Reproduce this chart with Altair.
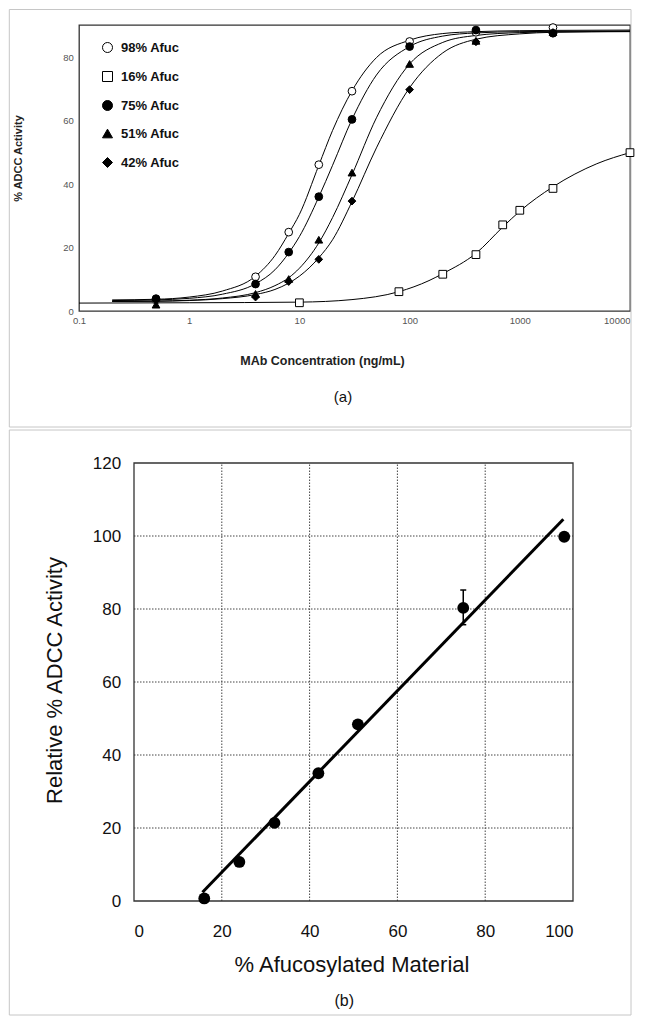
import altair as alt
import pandas as pd

FONT = "Liberation Sans"

# ---------------- Panel (a): dose-response ----------------
series_names = ["98% Afuc", "16% Afuc", "75% Afuc", "51% Afuc", "42% Afuc"]
series_shapes = ["circle", "square", "circle", "triangle-up", "diamond"]
series_fills = ["white", "white", "black", "black", "black"]
series_strokes = ["black", "black", "black", "black", "black"]

conc = [0.5, 4, 8, 15, 30, 100, 400, 2000]
afuc98 = [3.5, 10.8, 24.9, 46.2, 69.4, 85.1, 88.0, 89.5]
afuc75 = [3.9, 8.5, 18.6, 36.1, 60.5, 83.5, 88.7, 87.7]
afuc51 = [2.0, 5.4, 10.1, 22.5, 43.7, 78.0, 85.3, 88.1]
afuc42 = [3.5, 4.4, 9.3, 16.3, 34.7, 69.9, 85.0, 87.7]
conc16 = [10, 80, 200, 400, 700, 1000, 2000, 10000]
afuc16 = [2.6, 6.1, 11.6, 17.8, 27.2, 31.8, 38.7, 50.0]

# fitted curves
curve_conc = [0.2, 0.5, 1, 2, 4, 6, 8, 10, 15, 20, 30, 50, 100, 200, 400, 1000, 2000, 10000]
fit98 = [3.5, 3.7, 4.4, 6.3, 11.0, 17.5, 24.5, 30.5, 46.0, 57.0, 69.5, 80.0, 85.5, 87.6, 88.2, 88.5, 88.6, 88.7]
fit75 = [3.3, 3.5, 4.0, 5.3, 8.6, 13.0, 18.3, 23.5, 36.0, 46.0, 60.5, 74.5, 83.5, 86.8, 87.8, 88.2, 88.3, 88.4]
fit51 = [3.0, 3.1, 3.4, 4.1, 5.8, 8.0, 10.5, 13.5, 21.5, 29.5, 43.0, 61.0, 78.0, 84.8, 87.0, 87.9, 88.1, 88.2]
fit42 = [3.0, 3.1, 3.3, 3.9, 5.2, 6.8, 8.8, 11.0, 16.8, 22.5, 34.5, 51.5, 70.5, 81.5, 85.8, 87.5, 88.0, 88.3]
curve_conc16 = [0.1, 1, 10, 30, 80, 150, 200, 400, 700, 1000, 2000, 5000, 10000]
fit16 = [2.5, 2.6, 2.8, 3.6, 6.1, 9.6, 11.8, 18.2, 26.5, 31.5, 39.2, 46.5, 50.0]

x_ticks_a = [0.1, 1, 10, 100, 1000, 10000]
y_ticks_a = [0, 20, 40, 60, 80]

# ---------------- Panel (b): correlation ----------------
pct_afuc = [16, 24, 32, 42, 51, 75, 98]
rel_adcc = [0.7, 10.7, 21.4, 35.0, 48.4, 80.3, 99.8]
err_x = [75]
err_lo = [75.7]
err_hi = [85.2]
fit_x = [15.6, 97.8]
fit_y = [2.4, 104.6]
x_ticks_b = [0, 20, 40, 60, 80, 100]
y_ticks_b = [0, 20, 40, 60, 80, 100, 120]

# ---------------- tables ----------------
pts_rows = []
for name, xs_, ys_ in [("98% Afuc", conc, afuc98), ("16% Afuc", conc16, afuc16),
                       ("75% Afuc", conc, afuc75), ("51% Afuc", conc, afuc51),
                       ("42% Afuc", conc, afuc42)]:
    for a, b in zip(xs_, ys_):
        pts_rows.append({"conc": a, "act": b, "series": name})
pts_df = pd.DataFrame(pts_rows)

cur_rows = []
for name, xs_, ys_ in [("98% Afuc", curve_conc, fit98), ("16% Afuc", curve_conc16, fit16),
                       ("75% Afuc", curve_conc, fit75), ("51% Afuc", curve_conc, fit51),
                       ("42% Afuc", curve_conc, fit42)]:
    for a, b in zip(xs_, ys_):
        cur_rows.append({"conc": a, "act": b, "series": name})
cur_df = pd.DataFrame(cur_rows)

one = pd.DataFrame({"k": [0]})

# both panels share the same left plot origin (page x ~78)
W_A, H_A = 551, 286
W_B, H_B = 494, 438
B_LEFT = 55  # panel (b) data area starts 55px right of the shared origin
BOX_L, BOX_R = -69.7, 552.0

xs_a = alt.Scale(type="log", domain=[0.1, 10000], nice=False)
ys_a = alt.Scale(domain=[0, 90.3], nice=False)

x_axis_a = alt.Axis(values=x_ticks_a, format="~g", ticks=False, domain=False, grid=False,
                    labelFont=FONT, labelFontSize=9.5, labelColor="#555", labelPadding=4,
                    labelAlign=alt.ExprRef(expr="datum.value >= 10000 ? 'right' : 'center'"),
                    title="MAb Concentration (ng/mL)", titleFont=FONT, titleFontSize=12.5,
                    titleFontWeight="bold", titleColor="#222", titleX=243, titleY=49,
                    titleBaseline="middle", titleAlign="center")
y_axis_a = alt.Axis(values=y_ticks_a, ticks=False, domain=False, grid=False,
                    labelFont=FONT, labelFontSize=9.5, labelColor="#555", labelPadding=5.7,
                    title="% ADCC Activity", titleFont=FONT, titleFontSize=11,
                    titleFontWeight="bold", titleColor="#222", titleX=-61, titleY=133,
                    titleAngle=270, titleBaseline="middle", titleAlign="center")

curves = alt.Chart(cur_df).mark_line(color="black", strokeWidth=1, interpolate="monotone").encode(
    x=alt.X("conc:Q", scale=xs_a, axis=x_axis_a),
    y=alt.Y("act:Q", scale=ys_a, axis=y_axis_a),
    detail="series:N",
)

leg = alt.Legend(orient="none", legendX=22, legendY=16, padding=0, title=None,
                 labelFont=FONT, labelFontSize=13, labelFontWeight="bold", labelColor="#111",
                 symbolSize=100, symbolStrokeWidth=1,
                 rowPadding=14, labelOffset=7)

points = alt.Chart(pts_df).mark_point(opacity=1, strokeWidth=1, size=60).encode(
    x=alt.X("conc:Q", scale=xs_a),
    y=alt.Y("act:Q", scale=ys_a),
    shape=alt.Shape("series:N", scale=alt.Scale(domain=series_names, range=series_shapes), legend=leg),
    fill=alt.Fill("series:N", scale=alt.Scale(domain=series_names, range=series_fills), legend=leg),
    stroke=alt.Stroke("series:N", scale=alt.Scale(domain=series_names, range=series_strokes), legend=leg),
)

border_a = alt.Chart(one).mark_rect(fillOpacity=0, stroke="#c6c6c6", strokeWidth=1).encode(
    x=alt.value(BOX_L), x2=alt.value(BOX_R), y=alt.value(-15.5), y2=alt.value(402)
)
cap_a = alt.Chart(one).mark_text(text="(a)", font=FONT, fontSize=15, color="#111",
                                 baseline="middle", align="center").encode(
    x=alt.value(264), y=alt.value(372)
)

panel_a = alt.layer(border_a, curves, points, cap_a).properties(
    width=W_A, height=H_A, view=alt.ViewBackground(stroke="#333", strokeWidth=1.3))

# ---------------- panel b ----------------
b_df = pd.DataFrame({"pct": pct_afuc, "rel": rel_adcc})
fit_df = pd.DataFrame({"pct": fit_x, "rel": fit_y})
err_df = pd.DataFrame({"pct": err_x, "lo": err_lo, "hi": err_hi})
xgrid_df = pd.DataFrame({"pct": x_ticks_b[1:-1]})
ygrid_df = pd.DataFrame({"rel": y_ticks_b[1:-1]})
frame_df = pd.DataFrame({"x0": [x_ticks_b[0]], "x1": [x_ticks_b[-1]],
                         "y0": [y_ticks_b[0]], "y1": [y_ticks_b[-1]]})

xs_b = alt.Scale(domain=[0, 100], range=[B_LEFT, W_B], nice=False)
ys_b = alt.Scale(domain=[0, 120], nice=False)

x_axis_b = alt.Axis(values=x_ticks_b, grid=False, ticks=False, tickSize=0, domain=False,
                    labelFont=FONT, labelFontSize=17, labelColor="#111",
                    labelPadding=22, title="% Afucosylated Material", titleFont=FONT,
                    titleFontSize=22, titleFontWeight="normal", titleColor="#111",
                    titleX=B_LEFT + 217.5, titleY=63.7, titleBaseline="middle",
                    titleAlign="center")
y_axis_b = alt.Axis(values=y_ticks_b, grid=False, ticks=False, tickSize=0, domain=False,
                    offset=-B_LEFT,
                    labelFont=FONT, labelFontSize=17, labelColor="#111",
                    labelPadding=13.4, title="Relative % ADCC Activity", titleFont=FONT,
                    titleFontSize=22, titleFontWeight="normal", titleColor="#111",
                    titleX=-80, titleY=217, titleAngle=270, titleBaseline="middle",
                    titleAlign="center")

xgrid = alt.Chart(xgrid_df).mark_rule(color="#444", strokeDash=[1.5, 1.5], strokeWidth=1).encode(
    x=alt.X("pct:Q", scale=xs_b, axis=x_axis_b),
    y=alt.datum(0, scale=ys_b), y2=alt.datum(120),
)
ygrid = alt.Chart(ygrid_df).mark_rule(color="#444", strokeDash=[1.5, 1.5], strokeWidth=1).encode(
    y=alt.Y("rel:Q", scale=ys_b, axis=y_axis_b),
    x=alt.datum(0, scale=xs_b), x2=alt.datum(100),
)
frame_b = alt.Chart(frame_df).mark_rect(fillOpacity=0, stroke="#333", strokeWidth=1.3).encode(
    x=alt.X("x0:Q", scale=xs_b), x2="x1:Q",
    y=alt.Y("y0:Q", scale=ys_b), y2="y1:Q",
)
fit_line = alt.Chart(fit_df).mark_line(color="black", strokeWidth=3).encode(
    x=alt.X("pct:Q", scale=xs_b),
    y=alt.Y("rel:Q", scale=ys_b),
)
err_rule = alt.Chart(err_df).mark_rule(color="black", strokeWidth=1.5).encode(
    x=alt.X("pct:Q", scale=xs_b), y=alt.Y("lo:Q", scale=ys_b), y2="hi:Q"
)
err_cap_hi = alt.Chart(err_df).mark_tick(color="black", orient="horizontal", size=6,
                                         thickness=1.5, opacity=1).encode(
    x=alt.X("pct:Q", scale=xs_b), y=alt.Y("hi:Q", scale=ys_b)
)
err_cap_lo = alt.Chart(err_df).mark_tick(color="black", orient="horizontal", size=6,
                                         thickness=1.5, opacity=1).encode(
    x=alt.X("pct:Q", scale=xs_b), y=alt.Y("lo:Q", scale=ys_b)
)
dots = alt.Chart(b_df).mark_circle(color="black", opacity=1, size=140).encode(
    x=alt.X("pct:Q", scale=xs_b), y=alt.Y("rel:Q", scale=ys_b)
)
border_b = alt.Chart(one).mark_rect(fillOpacity=0, stroke="#c6c6c6", strokeWidth=1).encode(
    x=alt.value(BOX_L), x2=alt.value(BOX_R), y=alt.value(-33), y2=alt.value(552)
)
cap_b = alt.Chart(one).mark_text(text="(b)", font=FONT, fontSize=16, color="#111",
                                 baseline="middle", align="center").encode(
    x=alt.value(B_LEFT + 210.3), y=alt.value(538)
)

panel_b = alt.layer(border_b, xgrid, ygrid, frame_b, fit_line, err_rule, err_cap_hi,
                    err_cap_lo, dots, cap_b).properties(
    width=W_B, height=H_B, view=alt.ViewBackground(stroke="transparent"))

chart = alt.vconcat(panel_a, panel_b, spacing=0, padding=0).configure_view(
    stroke="transparent"
).configure(background="white")

chart.save("out.html", embed_options={"renderer": "svg", "actions": False})
